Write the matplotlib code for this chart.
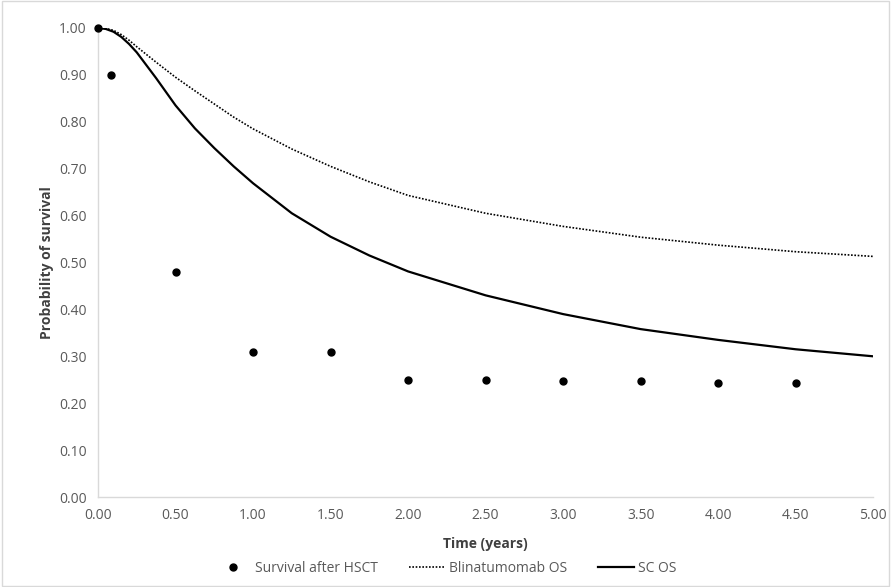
import matplotlib
matplotlib.use("Agg")
import matplotlib.pyplot as plt
from matplotlib.ticker import FormatStrFormatter
from matplotlib.patches import Rectangle

plt.rcParams['font.family'] = ['Open Sans', 'DejaVu Sans']

hsct_t = [0.0, 0.083, 0.5, 1.0, 1.5, 2.0, 2.5, 3.0, 3.5, 4.0, 4.5]
hsct_s = [1.0, 0.90, 0.48, 0.31, 0.31, 0.25, 0.25, 0.248, 0.248, 0.244, 0.244]

curve_t = [0.0, 0.05, 0.1, 0.15, 0.2, 0.25, 0.375, 0.5, 0.625, 0.75, 0.875, 1.0,
           1.25, 1.5, 1.75, 2.0, 2.5, 3.0, 3.5, 4.0, 4.5, 5.0]
sc_os = [1.0, 0.998, 0.992, 0.981, 0.966, 0.948, 0.893, 0.835, 0.786, 0.744, 0.705,
         0.669, 0.605, 0.555, 0.515, 0.481, 0.430, 0.390, 0.358, 0.335, 0.315, 0.300]
blin_os = [1.0, 0.999, 0.995, 0.986, 0.974, 0.960, 0.927, 0.895, 0.866, 0.838, 0.810,
           0.785, 0.742, 0.705, 0.672, 0.643, 0.605, 0.577, 0.554, 0.537, 0.523, 0.513]

fig = plt.figure(figsize=(8.91, 5.87), dpi=100)
ax = fig.add_axes([0.110, 0.1533, 0.870, 0.799])

ax.plot(hsct_t, hsct_s, linestyle='none', marker='o', markersize=5,
        color='black', label='Survival after HSCT', zorder=3, clip_on=False)
ax.plot(curve_t, blin_os, linestyle=(0, (1, 1)), linewidth=1.2, color='black',
        label='Blinatumomab OS')
ax.plot(curve_t, sc_os, linestyle='-', linewidth=1.6, color='black', label='SC OS')

ax.set_xlim(0, 5)
ax.set_ylim(0, 1.0)
ax.set_xticks([0, 0.5, 1, 1.5, 2, 2.5, 3, 3.5, 4, 4.5, 5])
ax.set_yticks([i / 10 for i in range(11)])
ax.xaxis.set_major_formatter(FormatStrFormatter('%.2f'))
ax.yaxis.set_major_formatter(FormatStrFormatter('%.2f'))
ax.tick_params(axis='both', length=0, labelsize=10, colors='#595959', pad=8)
for s in ['top', 'right']:
    ax.spines[s].set_visible(False)
for s in ['left', 'bottom']:
    ax.spines[s].set_color('#d9d9d9')
    ax.spines[s].set_linewidth(1)

ax.set_xlabel('Time (years)', fontsize=10, fontweight='bold', color='#404040', labelpad=10)
ax.set_ylabel('Probability of survival', fontsize=10, fontweight='bold', color='#404040', labelpad=4)

leg = fig.legend(loc='center', bbox_to_anchor=(0.5, 0.032), ncol=3, frameon=False,
                 fontsize=10, handlelength=2.6, columnspacing=2.2, handletextpad=0.3)
for t in leg.get_texts():
    t.set_color('#595959')

fig.patches.append(Rectangle((0.002, 0.002), 0.996, 0.996, transform=fig.transFigure,
                             fill=False, edgecolor='#d9d9d9', linewidth=1))

fig.savefig('out.png', dpi=100)
